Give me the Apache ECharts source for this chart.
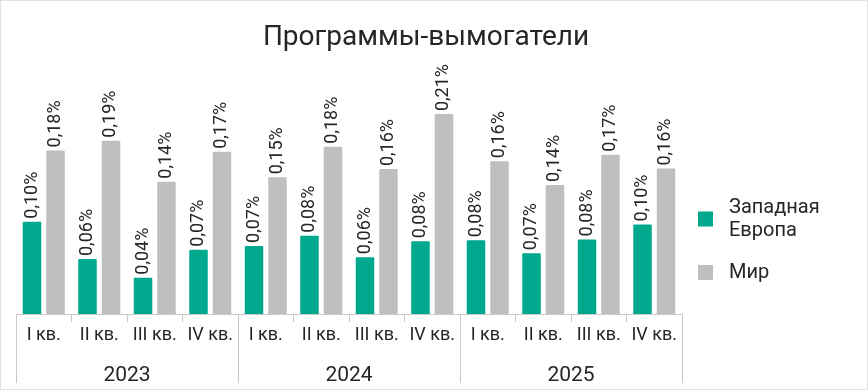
<!DOCTYPE html>
<html>
<head>
<meta charset="utf-8">
<script src="https://cdn.jsdelivr.net/npm/echarts@6/dist/echarts.min.js"></script>
<style>
html,body{margin:0;padding:0;background:#fff;}
#wrap{width:868px;height:390px;box-sizing:border-box;border:1px solid #e2e2e2;position:relative;overflow:hidden;}
#chart{position:absolute;left:-1px;top:-1px;width:868px;height:390px;}
</style>
</head>
<body>
<div id="wrap"><div id="chart"></div></div>
<script>
const quarters = ['I кв.','II кв.','III кв.','IV кв.','I кв.','II кв.','III кв.','IV кв.','I кв.','II кв.','III кв.','IV кв.'];
const years = ['2023','2024','2025'];
const westernEurope = [0.099,0.059,0.039,0.069,0.073,0.084,0.061,0.078,0.079,0.0652,0.080,0.096];
const world = [0.1755,0.186,0.142,0.174,0.1466,0.1795,0.1555,0.2145,0.164,0.1384,0.171,0.156];
const seriesNames = ['Западная\nЕвропа','Мир'];

const FONT = 'Roboto';
const TEXT = '#262626';
const AXIS = '#c9c9c9';

const chart = echarts.init(document.getElementById('chart'), null, {renderer:'canvas'});
const lbl = {
  show:true, position:'top', rotate:90, align:'left', verticalAlign:'middle', distance:3,
  fontFamily:FONT, fontSize:18, color:TEXT,
  formatter: p => p.value.toFixed(2).replace('.', ',') + '%'
};
chart.setOption({
  animation:false,
  title:{text:'Программы-вымогатели', left:421, textAlign:'center', top:19,
    textStyle:{fontFamily:FONT, fontSize:28, fontWeight:'normal', color:TEXT}},
  legend:{orient:'vertical', left:698, top:196, padding:0, itemWidth:15, itemHeight:15, itemGap:19,
    icon:'rect',
    textStyle:{fontFamily:FONT, fontSize:20, lineHeight:23, color:TEXT, padding:[0,0,0,11]},
    data:seriesNames},
  grid:{left:16, right:186, top:81, bottom:76},
  xAxis:[
    {type:'category', data:quarters, position:'bottom',
     axisLine:{show:true, lineStyle:{color:AXIS, width:1}},
     axisTick:{show:true, length:8, interval:0, lineStyle:{color:AXIS}},
     axisLabel:{interval:0, margin:12, fontFamily:FONT, fontSize:18, color:TEXT}},
    {type:'category', data:years, position:'bottom',
     axisLine:{show:false},
     axisTick:{show:true, length:69, interval:0, lineStyle:{color:AXIS}},
     axisLabel:{interval:0, margin:51, fontFamily:FONT, fontSize:21, color:TEXT}}
  ],
  yAxis:{type:'value', min:0, max:0.25, show:false, splitLine:{show:false}},
  series:[
    {name:seriesNames[0], type:'bar', data:westernEurope, xAxisIndex:0, barWidth:18.5, barGap:'27%',
     itemStyle:{color:'#00a88e', borderRadius:[1,1,0,0]}, label:lbl},
    {name:seriesNames[1], type:'bar', data:world, xAxisIndex:0, barWidth:18.5, barGap:'27%',
     itemStyle:{color:'#bfbfbf', borderRadius:[1,1,0,0]}, label:lbl}
  ]
});
</script>
</body>
</html>
